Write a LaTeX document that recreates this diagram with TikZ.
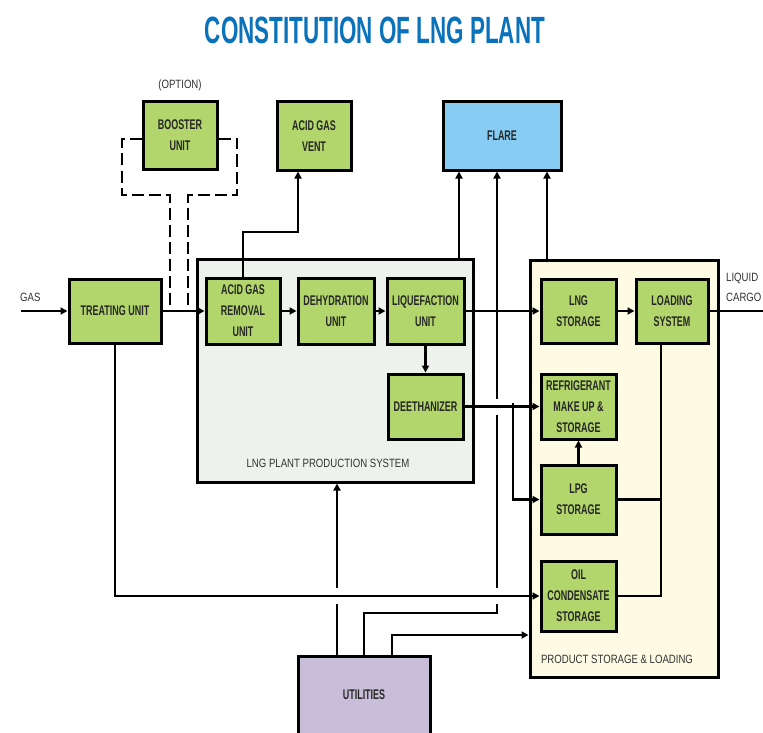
\documentclass[tikz,border=0pt]{standalone}
\usepackage{fontspec}
\setmainfont{Liberation Sans}
\newfontfamily\boxfont{Liberation Sans}[FakeStretch=0.64]
\newfontfamily\lblfont{Liberation Sans}[FakeStretch=0.8]
\newfontfamily\titlefont{Liberation Sans}[FakeStretch=0.59]
\usetikzlibrary{arrows.meta,calc}
\definecolor{boxgreen}{HTML}{B2D66C}
\definecolor{flareblue}{HTML}{87CCF2}
\definecolor{prodfill}{HTML}{EDF3EC}
\definecolor{storefill}{HTML}{FDFBE4}
\definecolor{utilfill}{HTML}{C9BEDA}
\definecolor{titleblue}{HTML}{0A72BA}
\newcommand{\crossgap}[2]{\fill[white] (#1-3.5,#2-8) rectangle (#1+3.5,#2+8);}
\begin{document}
\begin{tikzpicture}[x=1pt,y=-1pt,
  unitbox/.style={draw=black, line width=3pt, fill=boxgreen, text=black!85,
    font=\boxfont\bfseries\fontsize{14}{21}\selectfont, align=center, inner sep=0pt},
  groupbox/.style={draw=black, line width=3pt, inner sep=0pt},
  lbl/.style={font=\lblfont\fontsize{12}{20}\selectfont, text=black!80, inner sep=0pt, align=center},
  conn/.style={line width=2.6pt},
  arr/.style={conn, -{Triangle[length=7pt,width=7pt]}},
  dashconn/.style={line width=2.6pt, dash pattern=on 12pt off 5pt}]
\useasboundingbox (0,0) rectangle (763,733);
\fill[white] (0,0) rectangle (763,733);

% title
\node[font=\titlefont\bfseries\fontsize{38}{40}\selectfont, text=titleblue, inner sep=0pt] (title) at (375,30) {CONSTITUTION OF LNG PLANT};

% group boxes
\node[groupbox, fill=prodfill, minimum width=276, minimum height=223] (prod) at (335,370.5) {};
\node[groupbox, fill=storefill, minimum width=188, minimum height=417] (store) at (624,468.5) {};
\node[lbl] (prodlbl) at (328,463) {LNG PLANT PRODUCTION SYSTEM};
\node[lbl] (storelbl) at (617,659) {PRODUCT STORAGE \& LOADING};

% top boxes
\node[lbl] (option) at (180,85) {(OPTION)};
\node[unitbox, minimum width=74, minimum height=67] (booster) at (180,135.5) {BOOSTER\\UNIT};
\node[unitbox, minimum width=74, minimum height=68] (acidvent) at (314,136) {ACID GAS\\VENT};
\node[unitbox, fill=flareblue, minimum width=118, minimum height=68] (flare) at (502,136) {FLARE};

% row 1
\node[unitbox, minimum width=92, minimum height=64] (treat) at (115,311) {TREATING UNIT};
\node[unitbox, minimum width=74, minimum height=66] (agr) at (243,311) {ACID GAS\\REMOVAL\\UNIT};
\node[unitbox, minimum width=76, minimum height=66] (dehy) at (336,311) {DEHYDRATION\\UNIT};
\node[unitbox, minimum width=77, minimum height=66] (liq) at (425.5,311) {LIQUEFACTION\\UNIT};
\node[unitbox, minimum width=75, minimum height=64] (lng) at (578.5,311) {LNG\\STORAGE};
\node[unitbox, minimum width=72, minimum height=64] (load) at (672,311) {LOADING\\SYSTEM};

% lower boxes
\node[unitbox, minimum width=75, minimum height=65] (frac) at (425.5,406.5) {DEETHANIZER};
\node[unitbox, minimum width=75, minimum height=65] (refr) at (578.5,406.5) {REFRIGERANT\\MAKE UP \&\\STORAGE};
\node[unitbox, minimum width=75, minimum height=69] (lpg) at (578.5,499.5) {LPG\\STORAGE};
\node[unitbox, minimum width=75, minimum height=70] (oil) at (578.5,596) {OIL\\CONDENSATE\\STORAGE};
\node[unitbox, fill=utilfill, minimum width=132, minimum height=78] (util) at (364,695) {UTILITIES};

% free ends
\coordinate (gasin) at (21,311);
\coordinate (cargo) at (770,311);
\coordinate (f1) at ([xshift=-43pt]flare.south);
\coordinate (f2) at ([xshift=-5pt]flare.south);
\coordinate (f3) at ([xshift=45pt]flare.south);
\coordinate (lv) at ([xshift=-11pt]load.south);
\coordinate (br) at (513,406.5);

\node[lbl, anchor=west] (gaslbl) at (20,297) {GAS};
\node[lbl, anchor=west, align=left] (cargolbl) at (726,287) {LIQUID\\CARGO};

% vertical connectors first
\draw[arr] (prod.north -| f1) -- (f1);
\draw[arr] (store.north -| f3) -- (f3);
\draw[arr] (util.north) -- (util.north |- 0,613) -| (f2);
\draw[arr] ([xshift=-27pt]util.north) -- ([xshift=-27pt]util.north |- prod.south);
\crossgap{497}{406.5}
\crossgap{497}{596}
\crossgap{337}{596}

% booster (optional) dashed loop
\draw[dashconn] (booster.west |- 0,139) -- (122,139) -- (122,195) -- (170,195) -- (170,311);
\draw[dashconn] (booster.east |- 0,139) -- (237,139) -- (237,195) -- (188,195) -- (188,311);

% main line
\draw[arr] (gasin) -- (treat.west);
\draw[arr] (treat.east) -- (agr.west);
\draw[arr] (agr.east) -- (dehy.west);
\draw[arr] (dehy.east) -- (liq.west);
\draw[arr] (liq.east) -- (lng.west);
\draw[arr] (lng.east) -- (load.west);
\draw[conn] (load.east) -- (cargo);

% acid gas to vent
\draw[arr] (agr.north) -- (agr.north |- 0,232) -| ([xshift=-16pt]acidvent.south);

% liquefaction to deethanizer
\draw[arr] (liq.south) -- (frac.north);
\draw[arr] (frac.east) -- (refr.west);
\draw[arr] ([yshift=4pt]br) |- (lpg.west);
\draw[arr] (lpg.north) -- (refr.south);

% storages to loading
\draw[conn] (lpg.east) -- (lpg.east -| lv);
\draw[conn] (oil.east) -| (lv);

% treating to oil condensate
\draw[arr] (treat.south) |- (oil.west);

% utilities to storage area
\draw[arr] ([xshift=28pt]util.north) |- (store.west |- 0,635);
\end{tikzpicture}
\end{document}
